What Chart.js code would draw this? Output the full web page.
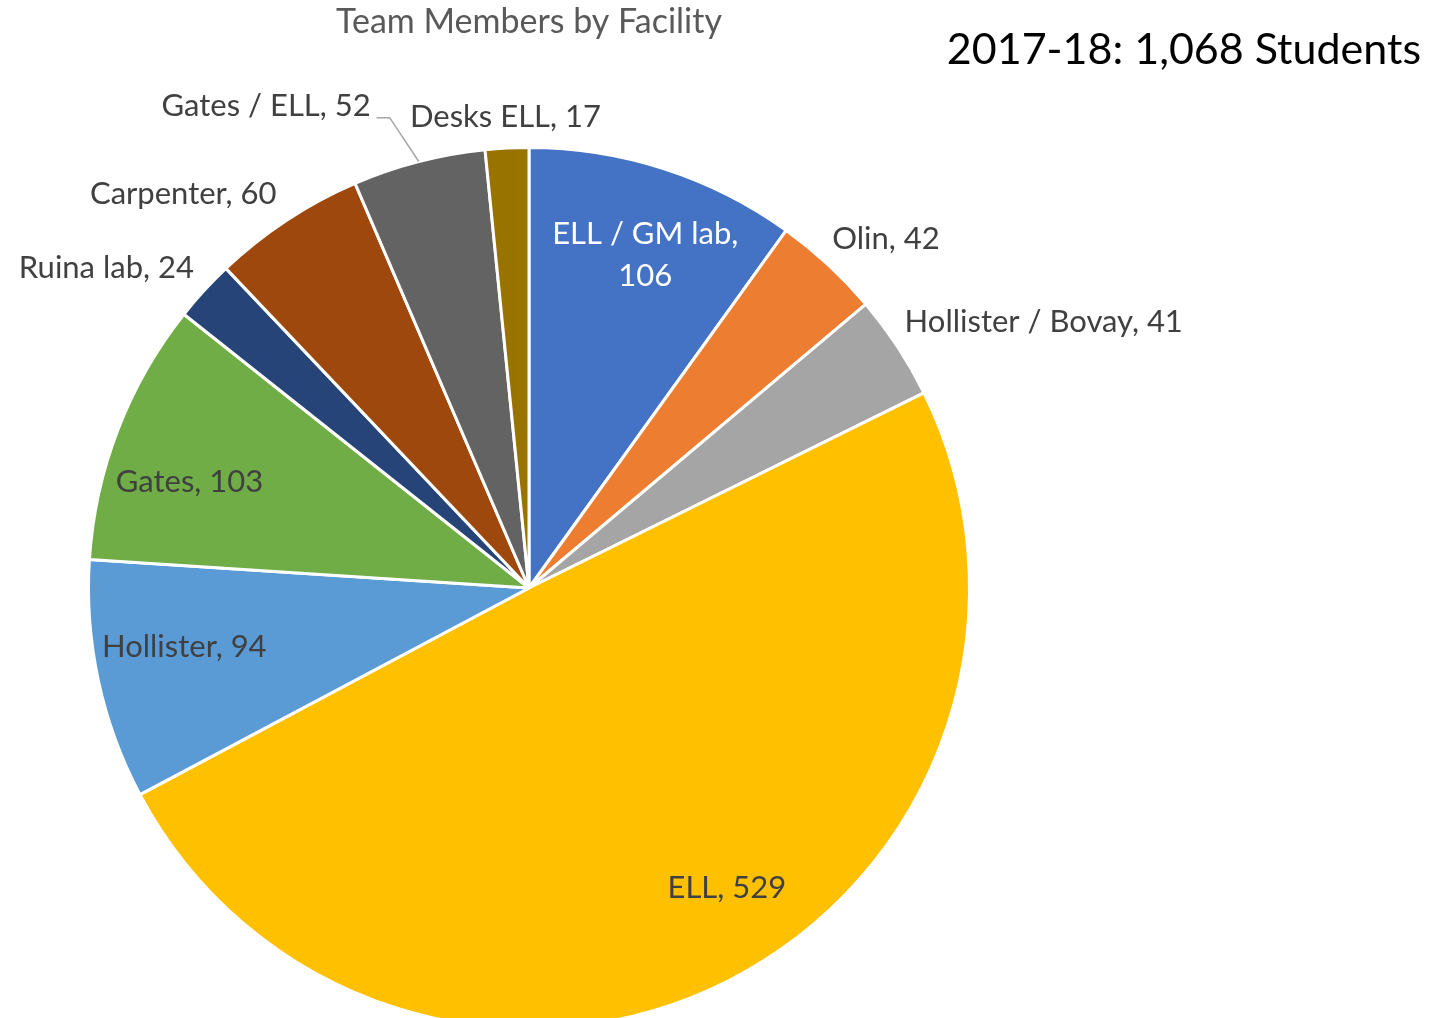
<!DOCTYPE html>
<html>
<head>
<meta charset="utf-8">
<title>Team Members by Facility</title>
<script src="https://cdn.jsdelivr.net/npm/chart.js@4/dist/chart.umd.min.js"></script>
<style>
  html, body { margin: 0; padding: 0; background: #fff; overflow: hidden; }
  #wrap { width: 1443px; height: 1040px; position: relative; }
</style>
</head>
<body>
<div id="wrap"><canvas id="pie"></canvas></div>
<script>
// data
const facilities = ['ELL / GM lab', 'Olin', 'Hollister / Bovay', 'ELL', 'Hollister', 'Gates', 'Ruina lab', 'Carpenter', 'Gates / ELL', 'Desks ELL'];
const members = [106, 42, 41, 529, 94, 103, 24, 60, 52, 17];
const chartTitle = 'Team Members by Facility';
const totalNote = '2017-18: 1,068 Students';

// styles
const sliceColors = ['#4472C4', '#ED7D31', '#A5A5A5', '#FFC000', '#5B9BD5', '#70AD47', '#264478', '#9E480E', '#636363', '#997300'];
// label placement: [radius factor, angle shift in degrees] relative to slice middle
const labelPlace = [[0.80, 1.4], [1.134, 2.8], [1.315, 5.9], [0.815, -6.3], [0.794, 2.4],
                    [0.807, -3.8], [1.204, -5.3], [1.19, -7.9], [1.247, -14.1], [1.07, 0]];
const labelWrap = [true, false, false, false, false, false, false, false, false, false];
const labelWhite = [true, false, false, false, false, false, false, false, false, false];
const leaderLine = [false, false, false, false, false, false, false, false, true, false];
const FONT = 'Lato, "Open Sans", sans-serif';

const labelsPlugin = {
  id: 'sliceLabels',
  afterDatasetsDraw(chart) {
    const ctx = chart.ctx;
    const arcs = chart.getDatasetMeta(0).data;
    ctx.save();
    ctx.font = '31px ' + FONT;
    ctx.textAlign = 'center';
    ctx.textBaseline = 'middle';
    arcs.forEach((arc, i) => {
      const p = arc.getProps(['x', 'y', 'startAngle', 'endAngle', 'outerRadius'], true);
      const mid = (p.startAngle + p.endAngle) / 2;
      const a = mid + labelPlace[i][1] * Math.PI / 180;
      const r = p.outerRadius * labelPlace[i][0];
      const cx = p.x + Math.cos(a) * r;
      const cy = p.y + Math.sin(a) * r;
      const lines = labelWrap[i] ? [facilities[i] + ',', String(members[i])] : [facilities[i] + ', ' + members[i]];
      const lh = 42;
      ctx.fillStyle = labelWhite[i] ? '#FFFFFF' : '#404040';
      lines.forEach((t, k) => {
        ctx.fillText(t, cx, cy + (k - (lines.length - 1) / 2) * lh);
      });
      if (leaderLine[i]) {
        const w = ctx.measureText(lines[0]).width;
        const sx = cx + w / 2 + 6, sy = cy + 12;
        ctx.strokeStyle = '#A6A6A6';
        ctx.lineWidth = 1.5;
        ctx.beginPath();
        ctx.moveTo(sx, sy);
        ctx.lineTo(sx + 13, sy);
        ctx.lineTo(p.x + Math.cos(mid) * p.outerRadius, p.y + Math.sin(mid) * p.outerRadius);
        ctx.stroke();
      }
    });
    // titles
    const ca = chart.chartArea;
    ctx.fillStyle = '#595959';
    ctx.font = '34px ' + FONT;
    ctx.fillText(chartTitle, (ca.left + ca.right) / 2, 22);
    ctx.fillStyle = '#000000';
    ctx.font = '43px ' + FONT;
    ctx.textAlign = 'right';
    ctx.fillText(totalNote, 1421, 50);
    ctx.restore();
  }
};

new Chart(document.getElementById('pie'), {
  type: 'pie',
  data: {
    labels: facilities,
    datasets: [{
      data: members,
      backgroundColor: sliceColors,
      borderColor: '#FFFFFF',
      borderWidth: 3
    }]
  },
  options: {
    responsive: true,
    maintainAspectRatio: false,
    animation: false,
    layout: { padding: { left: 87, right: 472, top: 146, bottom: 10 } },
    plugins: {
      legend: { display: false },
      tooltip: { enabled: false }
    }
  },
  plugins: [labelsPlugin]
});
</script>
</body>
</html>
